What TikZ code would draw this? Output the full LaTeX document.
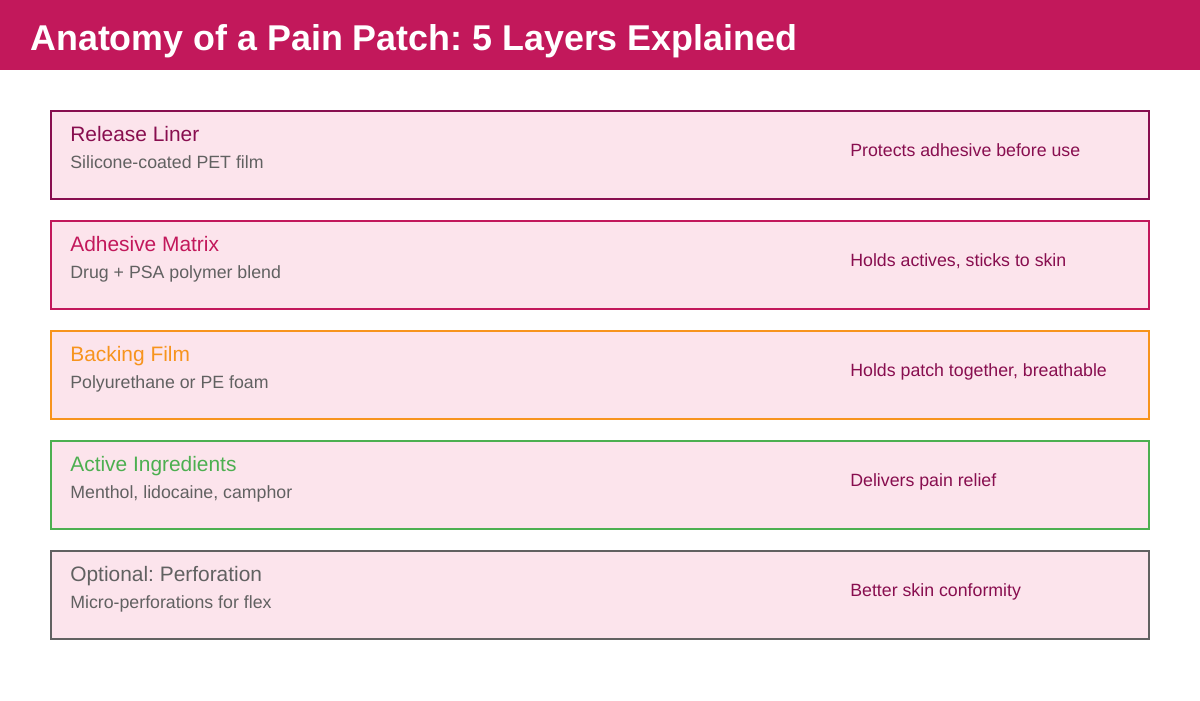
\documentclass[tikz,border=0pt]{standalone}
\usepackage{fontspec}
\setmainfont{Liberation Sans}
\frenchspacing
\definecolor{header}{HTML}{C2185B}
\definecolor{boxfill}{HTML}{FCE4EC}
\definecolor{plum}{HTML}{880E4F}
\definecolor{rose}{HTML}{C2185B}
\definecolor{amber}{HTML}{F7941D}
\definecolor{leaf}{HTML}{4CAF50}
\definecolor{slate}{HTML}{616161}
\tikzset{
  layer/.style = {draw = #1, line width = 1.6pt, fill = boxfill, minimum width = 1098*0.02cm, minimum height = 88*0.02cm, inner sep = 0pt},
  layertitle/.style = {anchor = base west, inner sep = 0pt, font = \fontsize{11.9}{13}\selectfont, text = #1},
  detail/.style = {anchor = base west, inner sep = 0pt, font = \fontsize{10.1}{11}\selectfont, text = slate},
  role/.style = {anchor = base west, inner sep = 0pt, font = \fontsize{10.1}{11}\selectfont, text = plum}
}
\begin{document}
\begin{tikzpicture}[x = 0.02cm, y = -0.02cm]
\useasboundingbox (0,0) rectangle (1200,700);
\fill[header] (0,0) rectangle (1200,70);
\node[anchor = base west, text = white, font = \fontsize{20.4}{24}\bfseries\selectfont, inner sep = 0pt] (title) at (30,50) {Anatomy of a Pain Patch: 5 Layers Explained};
\foreach \n/\c/\t/\d/\r in {0/plum/Release Liner/Silicone-coated PET film/Protects adhesive before use,
  1/rose/Adhesive Matrix/Drug + PSA polymer blend/{Holds actives, sticks to skin},
  2/amber/Backing Film/Polyurethane or PE foam/{Holds patch together, breathable},
  3/leaf/Active Ingredients/{Menthol, lidocaine, camphor}/Delivers pain relief,
  4/slate/Optional: Perforation/Micro-perforations for flex/Better skin conformity} {
  \pgfmathsetmacro\top{111+110*\n}
  \node[layer = \c] (box\n) at (600,\top+44) {};
  \node[layertitle = \c] (title\n) at (70,\top+30) {\t};
  \node[detail] (detail\n) at (70,\top+57) {\d};
  \node[role] (role\n) at (850,\top+45) {\r};
}
\end{tikzpicture}
\end{document}
